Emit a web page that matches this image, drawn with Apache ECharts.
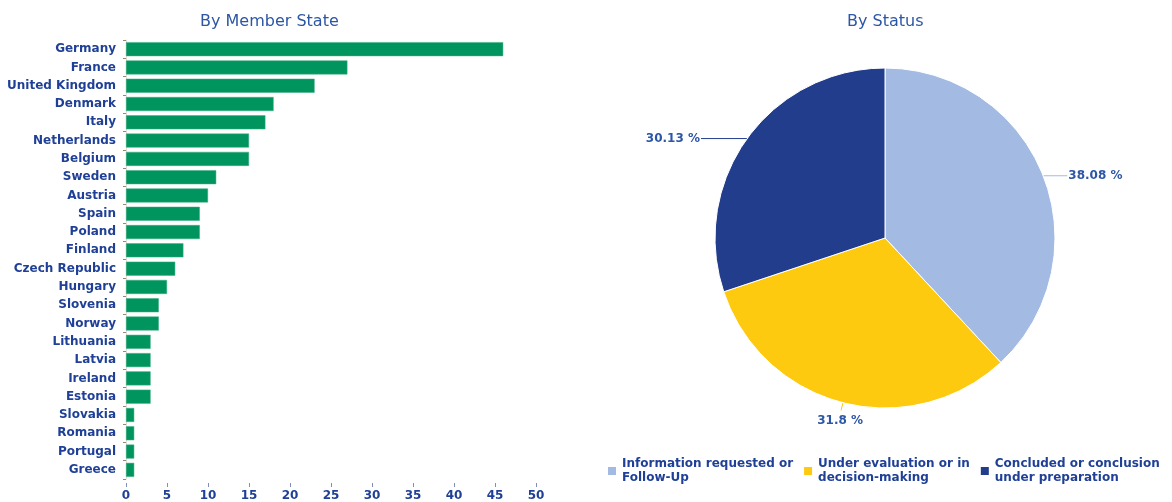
<!DOCTYPE html>
<html>
<head>
<meta charset="utf-8">
<script src="https://cdn.jsdelivr.net/npm/echarts@6/dist/echarts.min.js"></script>
<style>
html,body{margin:0;padding:0;background:#fff;}
#chart{width:1172px;height:502px;}
</style>
</head>
<body>
<div id="chart"></div>
<script>
const countries = ["Germany","France","United Kingdom","Denmark","Italy","Netherlands","Belgium","Sweden","Austria","Spain","Poland","Finland","Czech Republic","Hungary","Slovenia","Norway","Lithuania","Latvia","Ireland","Estonia","Slovakia","Romania","Portugal","Greece"];
const countryValues = [46,27,23,18,17,15,15,11,10,9,9,7,6,5,4,4,3,3,3,3,1,1,1,1];
const xTicks = [0,5,10,15,20,25,30,35,40,45,50];
const statusNames = ["Information requested or\nFollow-Up","Under evaluation or in\ndecision-making","Concluded or conclusion\nunder preparation"];
const statusValues = [91,76,72];
const statusColors = ["#a3bbe2","#fdca10","#233d8d"];

const FONT = "DejaVu Sans";
const TXT = "#1f4096";
const TITLE = "#2d56a6";

const chart = echarts.init(document.getElementById('chart'), null, {renderer:'canvas'});
const total = statusValues.reduce((a,b)=>a+b,0);

chart.setOption({
  animation:false,
  title:[
    {text:"By Member State", left:195, top:9,
     textStyle:{fontFamily:FONT, fontSize:16, fontWeight:'normal', color:TITLE}},
    {text:"By Status", left:842, top:9,
     textStyle:{fontFamily:FONT, fontSize:16, fontWeight:'normal', color:TITLE}}
  ],
  grid:{left:126, top:40, width:410, height:439, containLabel:false},
  xAxis:{
    type:'value', min:xTicks[0], max:xTicks[xTicks.length-1], interval:xTicks[1]-xTicks[0],
    offset:4,
    axisLine:{show:false},
    axisTick:{show:true, length:4, lineStyle:{color:'#7f8fb5'}},
    splitLine:{show:false},
    axisLabel:{fontFamily:FONT, fontSize:12, fontWeight:'bold', color:TXT, margin:7}
  },
  yAxis:{
    type:'category', data:countries, inverse:true,
    axisLine:{show:true, lineStyle:{color:'#e2dcd8', width:1}},
    axisTick:{show:true, length:3, lineStyle:{color:'#9c8378'}},
    axisLabel:{fontFamily:FONT, fontSize:12, fontWeight:'bold', color:TXT, margin:10}
  },
  legend:{
    data:statusNames, left:606, top:457, width:566, orient:'horizontal', padding:0,
    icon:'rect', itemWidth:10, itemHeight:10, itemGap:9,
    textStyle:{fontFamily:FONT, fontSize:12, fontWeight:'bold', color:TXT, lineHeight:14}
  },
  series:[
    {type:'bar', data:countryValues, barWidth:14,
     itemStyle:{color:'#00955e', borderColor:'#3aaf80', borderWidth:0.5}},
    {type:'pie', center:[885,238], radius:170, startAngle:90, clockwise:true,
     data:statusNames.map((n,i)=>({name:n, value:statusValues[i], itemStyle:{color:statusColors[i]},
       labelLine: i===1 ? {length:8, length2:0} : (i===0 ? {length:0.1, length2:24} : {length:0.1, length2:46})})),
     itemStyle:{borderColor:'#ffffff', borderWidth:1},
     label:{show:true, position:'outside', fontFamily:FONT, fontSize:12, fontWeight:'bold', color:'#2d56a6',
       distanceToLabelLine:1,
       formatter:p=>{ const v = Math.round(p.value/total*10000)/100; return v + ' %'; }},
     labelLine:{show:true, lineStyle:{width:1}},
     labelLayout:function(p){ if(p.dataIndex===1){ return {dx:23, dy:10}; } return {}; }
    }
  ]
});
</script>
</body>
</html>
